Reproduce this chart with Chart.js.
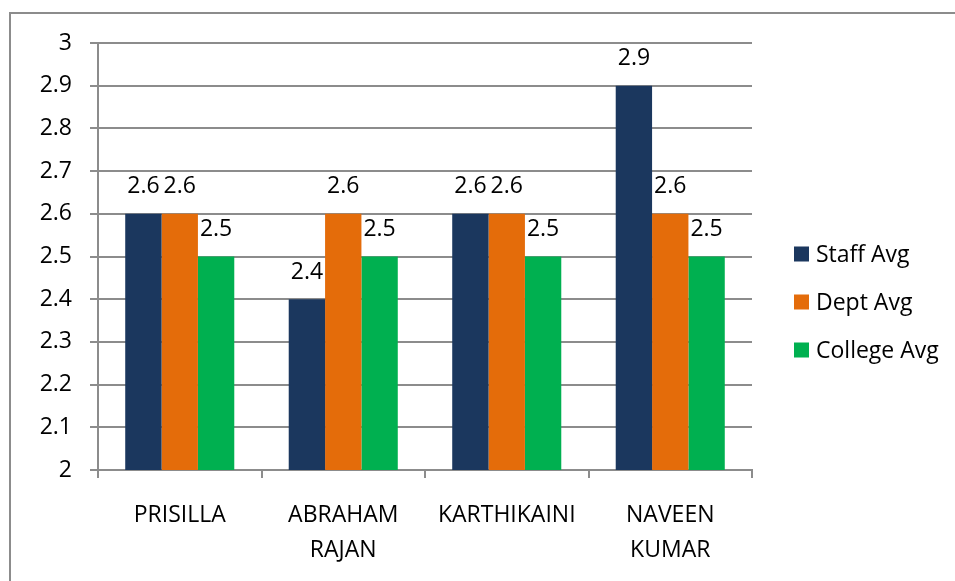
<!DOCTYPE html>
<html>
<head>
<meta charset="utf-8">
<script src="https://cdn.jsdelivr.net/npm/chart.js@4"></script>
<style>
  html, body { margin: 0; padding: 0; background: #fff; }
  #wrap { width: 955px; height: 581px; position: relative; }
</style>
</head>
<body>
<div id="wrap"><canvas id="chart" width="955" height="581"></canvas></div>
<script>
// --- data ---
const categories = ['PRISILLA', ['ABRAHAM', 'RAJAN'], 'KARTHIKAINI', ['NAVEEN', 'KUMAR']];
const seriesNames = ['Staff Avg', 'Dept Avg', 'College Avg'];
const staffAvg = [2.6, 2.4, 2.6, 2.9];
const deptAvg = [2.6, 2.6, 2.6, 2.6];
const collegeAvg = [2.5, 2.5, 2.5, 2.5];
const yTicks = [2, 2.1, 2.2, 2.3, 2.4, 2.5, 2.6, 2.7, 2.8, 2.9, 3];

const colors = ['#1b375e', '#e46c0a', '#00b050'];
const FONT = '"Open Sans", sans-serif';
const gridColor = '#8c8c8c';

// outer frame + data labels + legend
const decor = {
    id: 'decor',
    beforeDraw(chart) {
        const ctx = chart.ctx;
        ctx.save();
        ctx.strokeStyle = '#8c8c8c';
        ctx.lineWidth = 2;
        ctx.beginPath();
        ctx.moveTo(955, 13);
        ctx.lineTo(10, 13);
        ctx.lineTo(10, 581);
        ctx.stroke();
        ctx.restore();
    },
    afterDatasetsDraw(chart) {
        const ctx = chart.ctx;
        ctx.save();
        ctx.font = '23px ' + FONT;
        ctx.fillStyle = '#000';
        ctx.textAlign = 'center';
        ctx.textBaseline = 'middle';
        chart.data.datasets.forEach((ds, i) => {
            chart.getDatasetMeta(i).data.forEach((bar, j) => {
                ctx.fillText(String(ds.data[j]), bar.x, bar.y - 27);
            });
        });
        // legend
        ctx.textAlign = 'left';
        seriesNames.forEach((name, i) => {
            const cy = 254 + i * 48;
            ctx.fillStyle = colors[i];
            ctx.fillRect(794, cy - 7.5, 15, 15);
            ctx.fillStyle = '#000';
            ctx.fillText(name, 816, cy + 1);
        });
        ctx.restore();
    }
};

const ctx = document.getElementById('chart').getContext('2d');
new Chart(ctx, {
    type: 'bar',
    data: {
        labels: categories,
        datasets: [
            { label: seriesNames[0], data: staffAvg, backgroundColor: colors[0] },
            { label: seriesNames[1], data: deptAvg, backgroundColor: colors[1] },
            { label: seriesNames[2], data: collegeAvg, backgroundColor: colors[2] }
        ]
    },
    options: {
        responsive: false,
        animation: false,
        layout: { padding: { top: 43, right: 203, left: 0, bottom: 0 } },
        datasets: { bar: { categoryPercentage: 0.667, barPercentage: 1 } },
        plugins: { legend: { display: false }, tooltip: { enabled: false } },
        scales: {
            x: {
                grid: { drawOnChartArea: false, drawTicks: true, tickLength: 8, color: gridColor, lineWidth: 2 },
                border: { color: gridColor, width: 2 },
                ticks: { color: '#000', font: { family: FONT, size: 23, lineHeight: '35px' }, padding: 20, maxRotation: 0 },
                afterFit(scale) { scale.height = 111; }
            },
            y: {
                min: 2, max: 3,
                afterBuildTicks(scale) { scale.ticks = yTicks.map(v => ({ value: v })); },
                grid: { color: gridColor, lineWidth: 2, tickLength: 8 },
                border: { color: gridColor, width: 2 },
                ticks: {
                    color: '#000', font: { family: FONT, size: 23 }, padding: 18,
                    callback: v => String(Number(v.toFixed(1)))
                },
                afterFit(scale) { scale.width = 98; }
            }
        }
    },
    plugins: [decor]
});
</script>
</body>
</html>
